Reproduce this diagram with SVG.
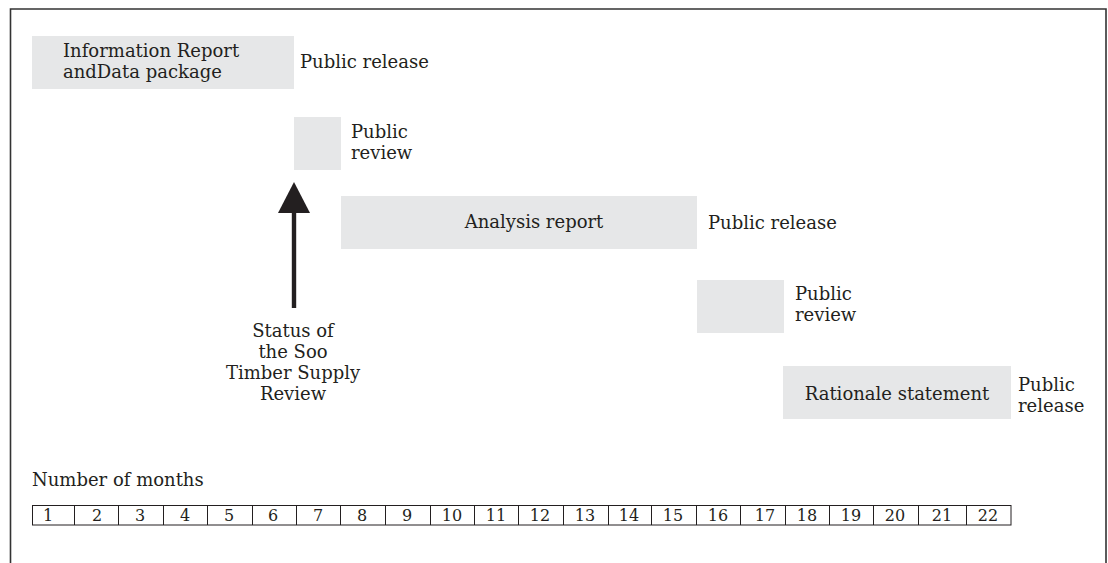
<svg xmlns="http://www.w3.org/2000/svg" width="1108" height="563" viewBox="0 0 1108 563">
<style>
text{font-family:"DejaVu Serif","Liberation Serif",serif;font-size:18px;fill:#231f20}
.box{fill:#e6e7e8}
.n{font-size:16px;text-anchor:middle}
.c{text-anchor:middle}
.cell{fill:none;stroke:#231f20;stroke-width:1}
</style>
<rect x="0" y="0" width="1108" height="563" fill="#fff"/>
<path d="M10.5 563 V9 H1106 V563" fill="none" stroke="#333" stroke-width="1.6"/>
<g id="info">
<rect class="box" x="32" y="36" width="262" height="53"/>
<text x="63" y="57">Information Report</text>
<text x="63" y="78">andData package</text>
<text x="300" y="68">Public release</text>
</g>
<g id="review1">
<rect class="box" x="294" y="117" width="47" height="53"/>
<text x="351" y="138">Public</text>
<text x="351" y="159">review</text>
</g>
<g id="analysis">
<rect class="box" x="341" y="196" width="356" height="53"/>
<text class="c" x="534" y="228">Analysis report</text>
<text x="708" y="229">Public release</text>
</g>
<g id="review2">
<rect class="box" x="697" y="280" width="87" height="53"/>
<text x="795" y="300">Public</text>
<text x="795" y="321">review</text>
</g>
<g id="rationale">
<rect class="box" x="783" y="366" width="228" height="53"/>
<text class="c" x="897" y="400">Rationale statement</text>
<text x="1018" y="391">Public</text>
<text x="1018" y="412">release</text>
</g>
<g id="status">
<text class="c" x="293" y="337">Status of</text>
<text class="c" x="293" y="358">the Soo</text>
<text class="c" x="293" y="379">Timber Supply</text>
<text class="c" x="293" y="400">Review</text>
</g>
<g id="connectors">
<rect x="291.8" y="210" width="4.4" height="98" fill="#231f20"/>
<polygon points="294,182 278,213 310,213" fill="#231f20"/>
</g>
<g id="scale">
<text x="32" y="486">Number of months</text>
<rect class="cell" x="32.5" y="505.5" width="978.5" height="19.5"/>
<path class="cell" d="M74.5 505.5V525M118.5 505.5V525M163.5 505.5V525M207.5 505.5V525M252.5 505.5V525M296.5 505.5V525M340.5 505.5V525M385.5 505.5V525M430.5 505.5V525M474.5 505.5V525M518.5 505.5V525M563.5 505.5V525M608.5 505.5V525M651.5 505.5V525M696.5 505.5V525M740.5 505.5V525M785.5 505.5V525M829.5 505.5V525M873.5 505.5V525M918.5 505.5V525M966.5 505.5V525"/>
<text class="n" x="48" y="521">1</text>
<text class="n" x="97" y="521">2</text>
<text class="n" x="140" y="521">3</text>
<text class="n" x="185" y="521">4</text>
<text class="n" x="229" y="521">5</text>
<text class="n" x="273" y="521">6</text>
<text class="n" x="318" y="521">7</text>
<text class="n" x="362" y="521">8</text>
<text class="n" x="407" y="521">9</text>
<text class="n" x="452" y="521">10</text>
<text class="n" x="496" y="521">11</text>
<text class="n" x="540" y="521">12</text>
<text class="n" x="585" y="521">13</text>
<text class="n" x="629" y="521">14</text>
<text class="n" x="673" y="521">15</text>
<text class="n" x="718" y="521">16</text>
<text class="n" x="765" y="521">17</text>
<text class="n" x="807" y="521">18</text>
<text class="n" x="851" y="521">19</text>
<text class="n" x="895" y="521">20</text>
<text class="n" x="942" y="521">21</text>
<text class="n" x="988" y="521">22</text>
</g>
</svg>
